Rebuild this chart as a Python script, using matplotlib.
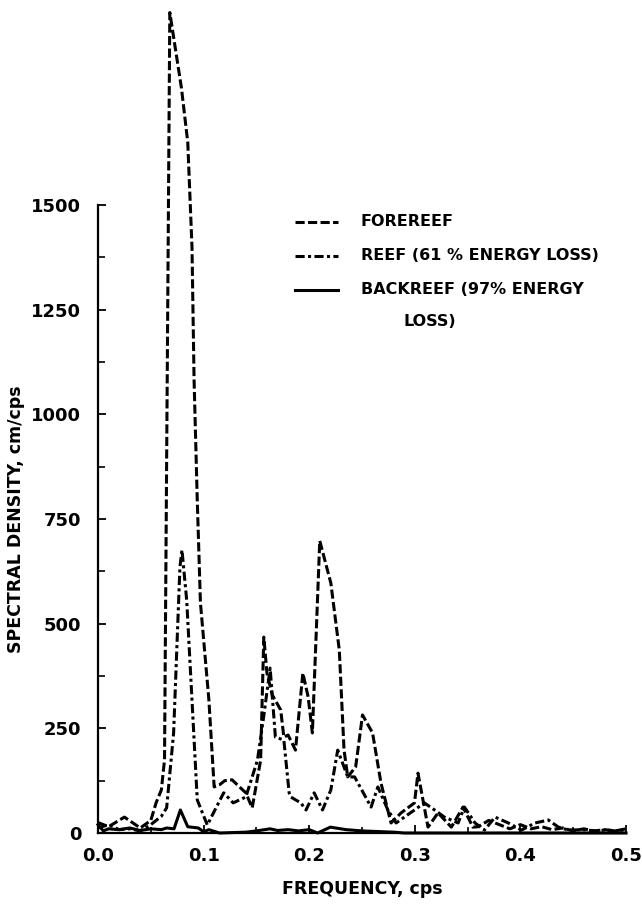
import matplotlib
matplotlib.use("Agg")
import matplotlib.pyplot as plt
from matplotlib.ticker import FixedLocator, MultipleLocator

# spectra (frequency in cps, density in cm/cps)
fore_freq = [0.0, 0.01, 0.025, 0.04, 0.05, 0.055, 0.06, 0.063, 0.068, 0.079, 0.085,
             0.089, 0.091, 0.094, 0.097, 0.105, 0.11, 0.115, 0.12, 0.127, 0.134, 0.14,
             0.146, 0.154, 0.157, 0.16, 0.165, 0.173, 0.176, 0.18, 0.187, 0.194, 0.199,
             0.203, 0.21, 0.2205, 0.2285, 0.233, 0.2365, 0.244, 0.2505, 0.26, 0.268,
             0.2775, 0.287, 0.2997, 0.303, 0.3125, 0.322, 0.3346, 0.3457, 0.355, 0.36,
             0.37, 0.38, 0.39, 0.40, 0.41, 0.42, 0.43, 0.44, 0.45, 0.46, 0.47, 0.48,
             0.49, 0.5]
fore_vals = [25, 15, 38, 12, 30, 72, 103, 175, 1960, 1780, 1650,
             1400, 1080, 795, 550, 318, 110, 115, 125, 127, 110, 96,
             60, 174, 468, 382, 330, 294, 229, 234, 198, 382, 325,
             239, 698, 597, 437, 198, 134, 158, 282, 239, 119,
             24, 48, 72, 143, 14, 48, 14, 62, 14, 15,
             30, 20, 10, 20, 10, 15, 8, 12, 5, 10, 5, 8,
             5, 10]

reef_freq = [0.0, 0.01, 0.02, 0.03, 0.04, 0.05, 0.06, 0.065, 0.0716, 0.0776, 0.0795,
             0.084, 0.089, 0.094, 0.1035, 0.119, 0.128, 0.14, 0.151, 0.157, 0.163,
             0.168, 0.176, 0.181, 0.1825, 0.192, 0.197, 0.2047, 0.2126, 0.2205, 0.227,
             0.2365, 0.243, 0.2586, 0.265, 0.2745, 0.2823, 0.2997, 0.309, 0.3187,
             0.328, 0.341, 0.347, 0.357, 0.366, 0.376, 0.3885, 0.401, 0.414, 0.4265,
             0.436, 0.4455, 0.46, 0.47, 0.48, 0.49, 0.5]
reef_vals = [12, 20, 8, 10, 5, 20, 40, 60, 239, 636, 676,
             556, 318, 79, 19, 96, 72, 86, 174, 280, 394,
             229, 222, 96, 86, 72, 55, 96, 55, 103, 198,
             134, 134, 62, 110, 55, 24, 55, 72, 55,
             38, 24, 62, 24, 7, 38, 24, 7, 24, 31,
             14, 7, 8, 5, 7, 5, 8]

back_freq = [0.0, 0.005, 0.01, 0.02, 0.03, 0.04, 0.05, 0.06, 0.065, 0.072, 0.078,
             0.085, 0.095, 0.1, 0.105, 0.115, 0.14, 0.15, 0.163, 0.17, 0.18, 0.19,
             0.2, 0.208, 0.22, 0.235, 0.25, 0.28, 0.29, 0.5]
back_vals = [20, 5, 10, 8, 12, 6, 10, 8, 12, 10, 55,
             15, 12, 3, 8, 0, 2, 5, 10, 6, 8, 5,
             8, 0, 14, 8, 5, 2, 0, 0]

labels = ["FOREREEF", "REEF (61 % ENERGY LOSS)", "BACKREEF (97% ENERGY"]
y_ticks = [0, 250, 500, 750, 1000, 1250, 1500]
x_ticks = [0.0, 0.1, 0.2, 0.3, 0.4, 0.5]

plt.rcParams['font.family'] = ['DejaVu Sans']
plt.rcParams['font.weight'] = 'bold'

fig = plt.figure(figsize=(6.42, 9.07), dpi=100, facecolor='white')
ax = fig.add_axes([98 / 642, 74 / 907, 528 / 642, 833 / 907])

lw = 2.2
dash = (3, 1.1)
dashdot = (3, 1.1, 1, 1.1)
ax.plot(fore_freq, fore_vals, color='black', lw=lw, dashes=dash, clip_on=False)
ax.plot(reef_freq, reef_vals, color='black', lw=lw, dashes=dashdot, clip_on=False)
ax.plot(back_freq, back_vals, color='black', lw=lw, clip_on=False)

ax.set_xlim(0, 0.5)
ax.set_ylim(0, 1990)

# open frame, left spine stops at 1500
ax.spines['top'].set_visible(False)
ax.spines['right'].set_visible(False)
ax.spines['left'].set_bounds(0, 1500)
ax.spines['left'].set_linewidth(1.6)
ax.spines['bottom'].set_linewidth(1.6)

ax.yaxis.set_major_locator(FixedLocator(y_ticks))
ax.yaxis.set_minor_locator(FixedLocator([v + 125 for v in y_ticks[:-1]]))
ax.set_xticks(x_ticks)
ax.set_xticklabels(['%.1f' % v for v in x_ticks])
ax.xaxis.set_minor_locator(MultipleLocator(0.05))
ax.tick_params(which='major', direction='in', length=6, width=1.3, labelsize=13, pad=10)
ax.tick_params(which='minor', direction='in', length=4, width=1.2)
ax.tick_params(axis='y', which='major', pad=12)
ax.tick_params(axis='y', which='minor', length=5)

fig.text(0.5 * (98 + 626) / 642, 1 - 889 / 907, 'FREQUENCY, cps', ha='center', va='center',
         fontsize=12.5, fontweight='bold')
fig.text(16 / 642, 1 - 519 / 907, 'SPECTRAL DENSITY, cm/cps', ha='center', va='center',
         rotation=90, fontsize=12.5, fontweight='bold')

# hand-placed key
rows = [0.7335, 0.6927, 0.652]
styles = [dash, dashdot, None]
for label, yy, st in zip(labels, rows, styles):
    seg, = ax.plot([0.373, 0.4545], [yy, yy], transform=ax.transAxes, color='black', lw=lw)
    if st is not None:
        seg.set_dashes(st)
    ax.text(0.498, yy, label, transform=ax.transAxes, ha='left', va='center',
            fontsize=11.5, fontweight='bold')
ax.text(0.578, 0.6135, 'LOSS)', transform=ax.transAxes, ha='left', va='center',
        fontsize=11.5, fontweight='bold')

fig.savefig('out.png', dpi=100, facecolor='white')
